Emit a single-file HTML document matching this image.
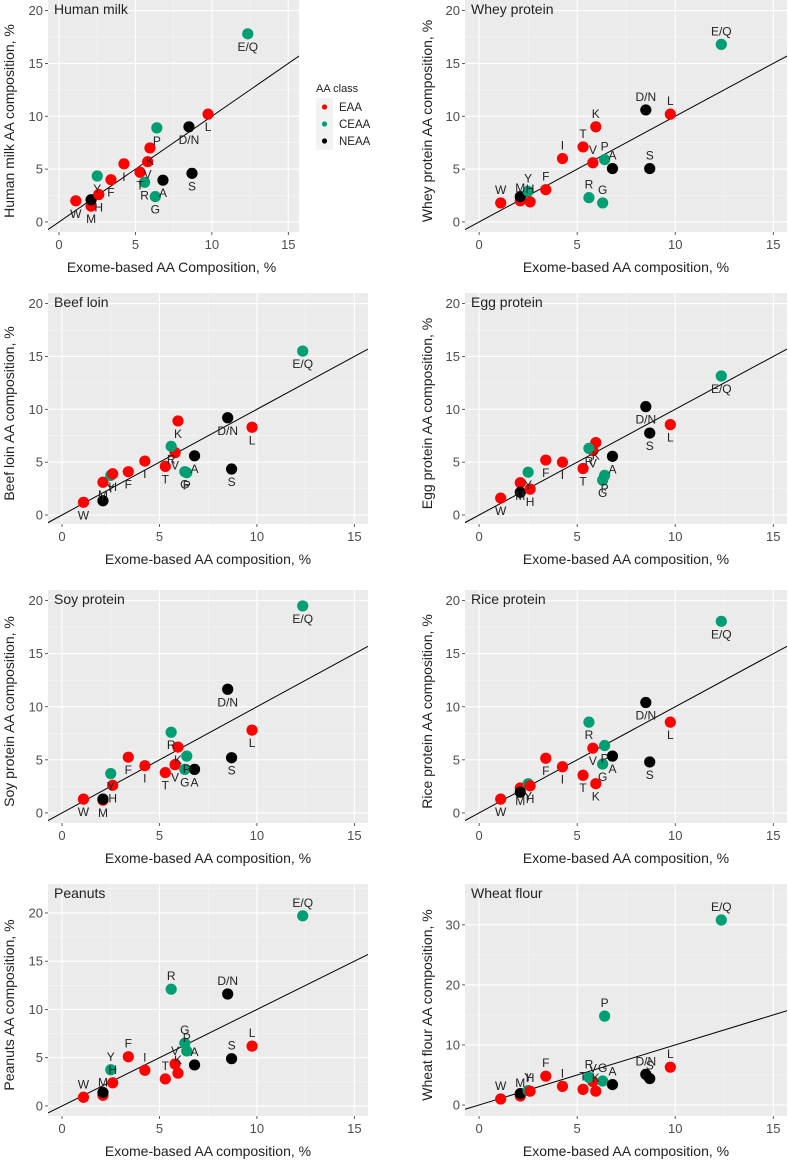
<!DOCTYPE html>
<html><head><meta charset="utf-8">
<style>
body{margin:0;background:#fff;}
svg{display:block;font-family:"Liberation Sans",Arial,sans-serif;}
</style></head>
<body>
<svg id="fig" width="788" height="1164" viewBox="0 0 788 1164" xmlns="http://www.w3.org/2000/svg"></svg>
<script>
// Shared data
const aaLabels = ["W","M","C","Y","H","F","I","T","V","K","R","G","P","A","D/N","S","L","E/Q"];
const aaClass  = ["EAA","EAA","NEAA","CEAA","EAA","EAA","EAA","EAA","EAA","EAA","CEAA","CEAA","CEAA","NEAA","NEAA","NEAA","EAA","CEAA"];
const exomeValues = [1.1,2.1,2.1,2.5,2.6,3.4,4.25,5.3,5.8,5.95,5.6,6.3,6.4,6.8,8.5,8.7,9.75,12.35];
const humanMilk = [2.0,1.5,2.1,4.35,2.6,4.0,5.5,4.7,5.7,7.0,3.75,2.4,8.9,3.95,9.0,4.6,10.2,17.8];
const wheyProtein = [1.8,2.0,2.4,2.9,1.9,3.05,6.0,7.1,5.6,9.0,2.3,1.8,5.9,5.05,10.6,5.05,10.2,16.8];
const beefLoin = [1.2,3.1,1.35,3.75,3.9,4.1,5.1,4.6,5.9,8.9,6.5,4.1,4.0,5.6,9.2,4.35,8.3,15.5];
const eggProtein = [1.6,3.05,2.15,4.05,2.45,5.2,5.0,4.4,6.1,6.85,6.3,3.3,3.75,5.55,10.25,7.75,8.55,13.15];
const soyProtein = [1.3,1.2,1.3,3.7,2.6,5.25,4.45,3.8,4.55,6.2,7.6,4.1,5.35,4.1,11.65,5.2,7.8,19.5];
const riceProtein = [1.3,2.35,1.95,2.75,2.55,5.15,4.35,3.55,6.1,2.75,8.55,4.6,6.35,5.35,10.4,4.8,8.55,18.05];
const peanuts = [0.9,1.1,1.4,3.75,2.4,5.1,3.7,2.8,4.35,3.4,12.1,6.5,5.7,4.25,11.6,4.9,6.2,19.7];
const wheatFlour = [1.0,1.5,1.9,2.4,2.3,4.8,3.1,2.6,3.9,2.3,4.6,4.0,14.8,3.4,5.1,4.4,6.3,30.8];
const xTicks = [0,5,10,15];
const yTicks20 = [0,5,10,15,20];
const yTicks30 = [0,10,20,30];
const colors = {EAA:"#ff0000",CEAA:"#009e73",NEAA:"#000000"};

const panels = [
 {name:"human-milk",title:"Human milk",ytitle:"Human milk AA composition, %",xtitle:"Exome-based AA Composition, %",vals:humanMilk,l:48,t:0,w:251,h:232,ymin:-0.95,ymax:21.0,yt:yTicks20,dy:1,ytx:9},
 {name:"whey-protein",title:"Whey protein",ytitle:"Whey protein AA composition, %",xtitle:"Exome-based AA composition, %",vals:wheyProtein,l:465,t:0,w:322,h:232,ymin:-0.95,ymax:21.0,yt:yTicks20,dy:-1,ytx:427},
 {name:"beef-loin",title:"Beef loin",ytitle:"Beef loin AA composition, %",xtitle:"Exome-based AA composition, %",vals:beefLoin,l:48,t:293,w:320,h:231,ymin:-0.85,ymax:21.0,yt:yTicks20,dy:1,ytx:9},
 {name:"egg-protein",title:"Egg protein",ytitle:"Egg protein AA composition, %",xtitle:"Exome-based AA composition, %",vals:eggProtein,l:465,t:293,w:322,h:231,ymin:-0.85,ymax:21.0,yt:yTicks20,dy:1,ytx:427},
 {name:"soy-protein",title:"Soy protein",ytitle:"Soy protein AA composition, %",xtitle:"Exome-based AA composition, %",vals:soyProtein,l:48,t:590,w:320,h:233,ymin:-0.95,ymax:21.0,yt:yTicks20,dy:1,ytx:9},
 {name:"rice-protein",title:"Rice protein",ytitle:"Rice protein AA composition, %",xtitle:"Exome-based AA composition, %",vals:riceProtein,l:465,t:590,w:322,h:233,ymin:-0.95,ymax:21.0,yt:yTicks20,dy:1,ytx:427},
 {name:"peanuts",title:"Peanuts",ytitle:"Peanuts AA composition, %",xtitle:"Exome-based AA composition, %",vals:peanuts,l:48,t:884,w:320,h:232,ymin:-1.04,ymax:23.0,yt:yTicks20,dy:-1,ytx:9},
 {name:"wheat-flour",title:"Wheat flour",ytitle:"Wheat flour AA composition, %",xtitle:"Exome-based AA composition, %",vals:wheatFlour,l:465,t:884,w:322,h:232,ymin:-1.83,ymax:36.8,yt:yTicks30,dy:-1,ytx:427}
];
const XMIN=-0.72, XMAX=15.7;
const NS="http://www.w3.org/2000/svg";
const svg=document.getElementById("fig");
function mk(tag,attrs,parent){const e=document.createElementNS(NS,tag);for(const k in attrs)e.setAttribute(k,attrs[k]);(parent||svg).appendChild(e);return e;}

panels.forEach(p=>{
  const g=mk("g",{});
  
  
  const sx=v=>p.l+(v-XMIN)/(XMAX-XMIN)*p.w;
  const sy=v=>p.t+p.h-(v-p.ymin)/(p.ymax-p.ymin)*p.h;
  const bg=mk("rect",{x:p.l,y:p.t,width:p.w,height:p.h,fill:"#ebebeb"},g);
  
  
  // minor grid
  for(let i=0;i<xTicks.length;i++){const v=xTicks[i]+2.5;if(v<XMAX)mk("line",{x1:sx(v),x2:sx(v),y1:p.t,y2:p.t+p.h,stroke:"#f5f5f5","stroke-width":0.6},g);}
  const ystep=p.yt[1]-p.yt[0];
  for(let i=0;i<p.yt.length;i++){const v=p.yt[i]+ystep/2;if(v<p.ymax)mk("line",{x1:p.l,x2:p.l+p.w,y1:sy(v),y2:sy(v),stroke:"#f5f5f5","stroke-width":0.6},g);}
  // major grid + ticks
  xTicks.forEach(v=>{
    mk("line",{x1:sx(v),x2:sx(v),y1:p.t,y2:p.t+p.h,stroke:"#fff","stroke-width":1.1},g);
    mk("line",{x1:sx(v),x2:sx(v),y1:p.t+p.h,y2:p.t+p.h+3,stroke:"#333","stroke-width":0.8},g);
    const t=mk("text",{x:sx(v),y:p.t+p.h+17,"text-anchor":"middle","font-size":13,fill:"#4d4d4d"},g);
    t.textContent=v;
    
    
  });
  p.yt.forEach(v=>{
    mk("line",{x1:p.l,x2:p.l+p.w,y1:sy(v),y2:sy(v),stroke:"#fff","stroke-width":1.1},g);
    mk("line",{x1:p.l-3,x2:p.l,y1:sy(v),y2:sy(v),stroke:"#333","stroke-width":0.8},g);
    const t=mk("text",{x:p.l-5,y:sy(v)+4.5,"text-anchor":"end","font-size":13,fill:"#4d4d4d"},g);
    t.textContent=v;
    
    
  });
  // clip
  const cid="clip-"+p.name;
  const cp=mk("clipPath",{id:cid},g);mk("rect",{x:p.l,y:p.t,width:p.w,height:p.h},cp);
  const lg=mk("g",{"clip-path":"url(#"+cid+")"},g);
  const ln=mk("line",{x1:sx(XMIN),y1:sy(XMIN),x2:sx(XMAX),y2:sy(XMAX),stroke:"#000","stroke-width":1},lg);
  
  
  // points
  aaLabels.forEach((lab,i)=>{
    const c=mk("circle",{cx:sx(exomeValues[i]),cy:sy(p.vals[i]),r:5.6,fill:colors[aaClass[i]]},lg);
    
    
  });
  aaLabels.forEach((lab,i)=>{
    if(lab==="C")return;
    const ty=sy(p.vals[i])+(p.dy>0?17:-9);
    const t=mk("text",{x:sx(exomeValues[i]),y:ty,"text-anchor":"middle","font-size":12,fill:"#222"},lg);
    t.textContent=lab;
    
    
  });
  const tt=mk("text",{x:p.l+6,y:p.t+14,"font-size":14,fill:"#222"},g);
  tt.textContent=p.title;
  
  
  const xt=mk("text",{x:p.l+p.w/2+ (p.name==="human-milk"?-2:0),y:p.t+p.h+40,"text-anchor":"middle","font-size":14,fill:"#222"},g);
  xt.textContent=p.xtitle;
  
  
  const cy=p.t+p.h/2;
  const yt=mk("text",{x:p.ytx,y:cy,"text-anchor":"middle","font-size":14,fill:"#222",transform:"rotate(-90 "+(p.ytx+5)+" "+cy+")"},g);
  yt.textContent=p.ytitle;
  
  
});

// legend
const leg=mk("g",{});


const lt=mk("text",{x:316,y:92,"font-size":11,fill:"#222"},leg);lt.textContent="AA class";
mk("rect",{x:316,y:98,width:17,height:52,fill:"#f2f2f2"},leg);
[["EAA",107],["CEAA",124],["NEAA",141]].forEach(([k,y])=>{
  const c=mk("circle",{cx:324.5,cy:y,r:2.6,fill:colors[k]},leg);
  
  
  const t=mk("text",{x:339,y:y+4,"font-size":11.5,fill:"#222"},leg);t.textContent=k;
  
  
});
</script>
</body></html>
